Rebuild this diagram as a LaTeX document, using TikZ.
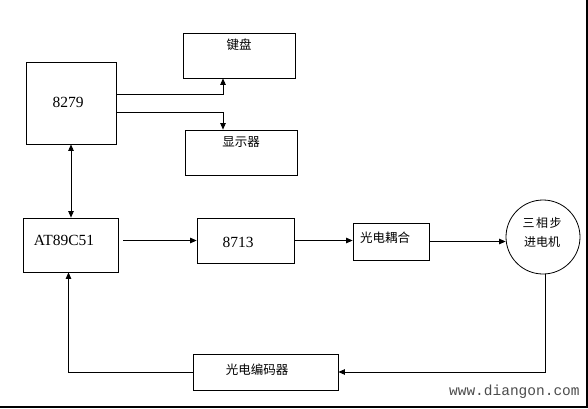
\documentclass[tikz,border=0pt]{standalone}
\usepackage{fontspec}
\setmainfont{Liberation Serif}
\newfontfamily\cjk{Noto Sans CJK SC}
\newfontfamily\wmfont{Liberation Mono}
\usetikzlibrary{arrows.meta, positioning, calc}

\begin{document}
\begin{tikzpicture}[x=1pt, y=1pt,
    box/.style={draw, line width=0.8pt, inner sep=0pt},
    num/.style={font=\fontsize{15.5}{18}\selectfont, inner sep=0pt},
    cn/.style={font=\cjk\fontsize{12.5}{19}\selectfont, inner sep=0pt, align=center},
    >={Triangle[length=6.5pt, width=5.5pt]}, line width=0.7pt
  ]
  \useasboundingbox (0,0) rectangle (588,-408);

  % blocks
  \node[box, minimum width=90pt, minimum height=82pt] (chip) at (71,-103) {};
  \node[num] (chiptxt) at (68,-102) {8279};
  \node[box, minimum width=112pt, minimum height=45pt] (kbd) at (239,-55.5) {};
  \node[cn, below=6pt of kbd.north] (kbdtxt) {键盘};
  \node[box, minimum width=112pt, minimum height=45pt] (disp) at (241,-152.5) {};
  \node[cn, below=7pt of disp.north] (disptxt) {显示器};

  \node[box, minimum width=95pt, minimum height=54pt] (mcu) at (70.5,-245) {};
  \node[num] (mcutxt) at (64,-240) {AT89C51};
  \node[box, minimum width=97pt, minimum height=45pt] (drv) at (245.5,-240.5) {};
  \node[num] (drvtxt) at (238,-242) {8713};
  \node[box, minimum width=76pt, minimum height=37pt] (opto) at (391,-241.5) {};
  \node[cn] (optotxt) at (385,-238) {光电耦合};
  \node[box, circle, minimum size=74pt] (motor) at (543,-237) {};
  \node[cn, font=\cjk\fontsize{12}{19}\selectfont] (motortxt) at (542,-232.5) {三\hspace{1.5pt}相\hspace{1.5pt}步\\进电机};
  \node[box, minimum width=145pt, minimum height=36pt] (enc) at (265.5,-372) {};
  \node[cn] (enctxt) at (257,-370) {光电编码器};

  % connections
  \draw[->] ([yshift=9pt]chip.east) -| ([xshift=-16pt]kbd.south);
  \draw[->] ([yshift=-9pt]chip.east) -| ([xshift=-18pt]disp.north);
  \draw[<->] (chip.south) -- (chip.south |- mcu.north);
  \draw[->, shorten <=5pt] (mcu.east |- drv.west) -- (drv.west);
  \draw[->] (drv.east) -- (drv.east -| opto.west);
  \draw[->] (opto.east) -- (opto.east -| motor.west);
  \draw[->] ([xshift=2pt]motor.south) |- (enc.east);
  \draw[->] (enc.west) -| ([xshift=-2pt]mcu.south);

  \node[font=\wmfont\fontsize{14.5}{16}\selectfont, text=black!70, anchor=south east, inner sep=0pt] (wm) at (580,-399) {www.diangon.com};

  % frame edges
  \fill (586,0) rectangle (588,-408);
  \fill (0,-406) rectangle (588,-408);
\end{tikzpicture}
\end{document}
